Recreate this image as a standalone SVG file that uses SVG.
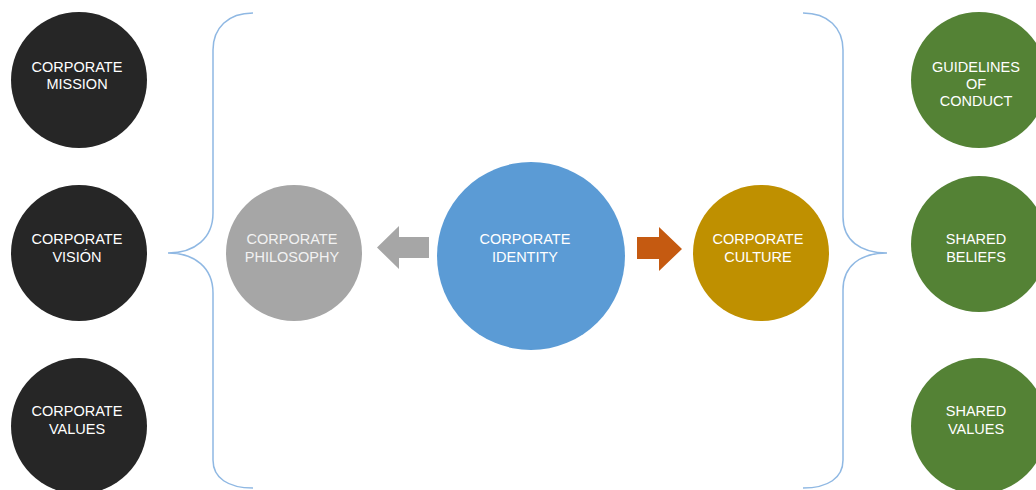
<svg xmlns="http://www.w3.org/2000/svg" width="1036" height="490" viewBox="0 0 1036 490">
<style>
text{font-family:"Liberation Sans",Arial,sans-serif;font-size:14.5px;fill:#ffffff;text-anchor:middle}
.dark{fill:#262626}.green{fill:#548235}.brace{fill:none;stroke:#8fb8e3;stroke-width:1.5}
.light{fill:#f2f2f2}
</style>
<rect width="1036" height="490" fill="#ffffff"/>
<g id="connectors">
<path class="brace" d="M253,13 C228,13 213,28 213,50 L213,213 C213,238 195,253 168,253 C195,253 213,268 213,293 L213,460 C213,478 228,488 253,488"/>
<path class="brace" d="M803,13 C828,13 843,28 843,50 L843,217 C843,240 860,253 887,253 C860,253 843,266 843,290 L843,460 C843,478 828,488 803,488"/>
<polygon id="arrow-left" points="429,237 399,237 399,226 377,247.5 399,269 399,258 429,258" fill="#a6a6a6"/>
<polygon id="arrow-right" points="637,237 659,237 659,227 682,249 659,271 659,259 637,259" fill="#c55a11"/>
</g>
<g id="mission"><circle class="dark" cx="79" cy="80" r="68"/><text x="77" y="72">CORPORATE</text><text x="77" y="89">MISSION</text></g>
<g id="vision"><circle class="dark" cx="79" cy="253" r="68"/><text x="77" y="244">CORPORATE</text><text x="77" y="262">VISIÓN</text></g>
<g id="values"><circle class="dark" cx="79" cy="426" r="68"/><text x="77" y="416">CORPORATE</text><text x="77" y="434">VALUES</text></g>
<g id="philosophy"><circle cx="294" cy="253" r="68" fill="#a6a6a6"/><text class="light" x="292" y="244">CORPORATE</text><text class="light" x="292" y="262">PHILOSOPHY</text></g>
<g id="identity"><circle cx="531" cy="256" r="94" fill="#5b9bd5"/><text x="525" y="244">CORPORATE</text><text x="525" y="262">IDENTITY</text></g>
<g id="culture"><circle cx="761" cy="253" r="68" fill="#bf9000"/><text x="758" y="244">CORPORATE</text><text x="758" y="262">CULTURE</text></g>
<g id="guidelines"><circle class="green" cx="979" cy="80" r="68"/><text x="976" y="72">GUIDELINES</text><text x="976" y="89">OF</text><text x="976" y="106">CONDUCT</text></g>
<g id="beliefs"><circle class="green" cx="979" cy="244" r="68"/><text x="976" y="244">SHARED</text><text x="976" y="262">BELIEFS</text></g>
<g id="shared-values"><circle class="green" cx="979" cy="426" r="68"/><text x="976" y="416">SHARED</text><text x="976" y="434">VALUES</text></g>
</svg>
